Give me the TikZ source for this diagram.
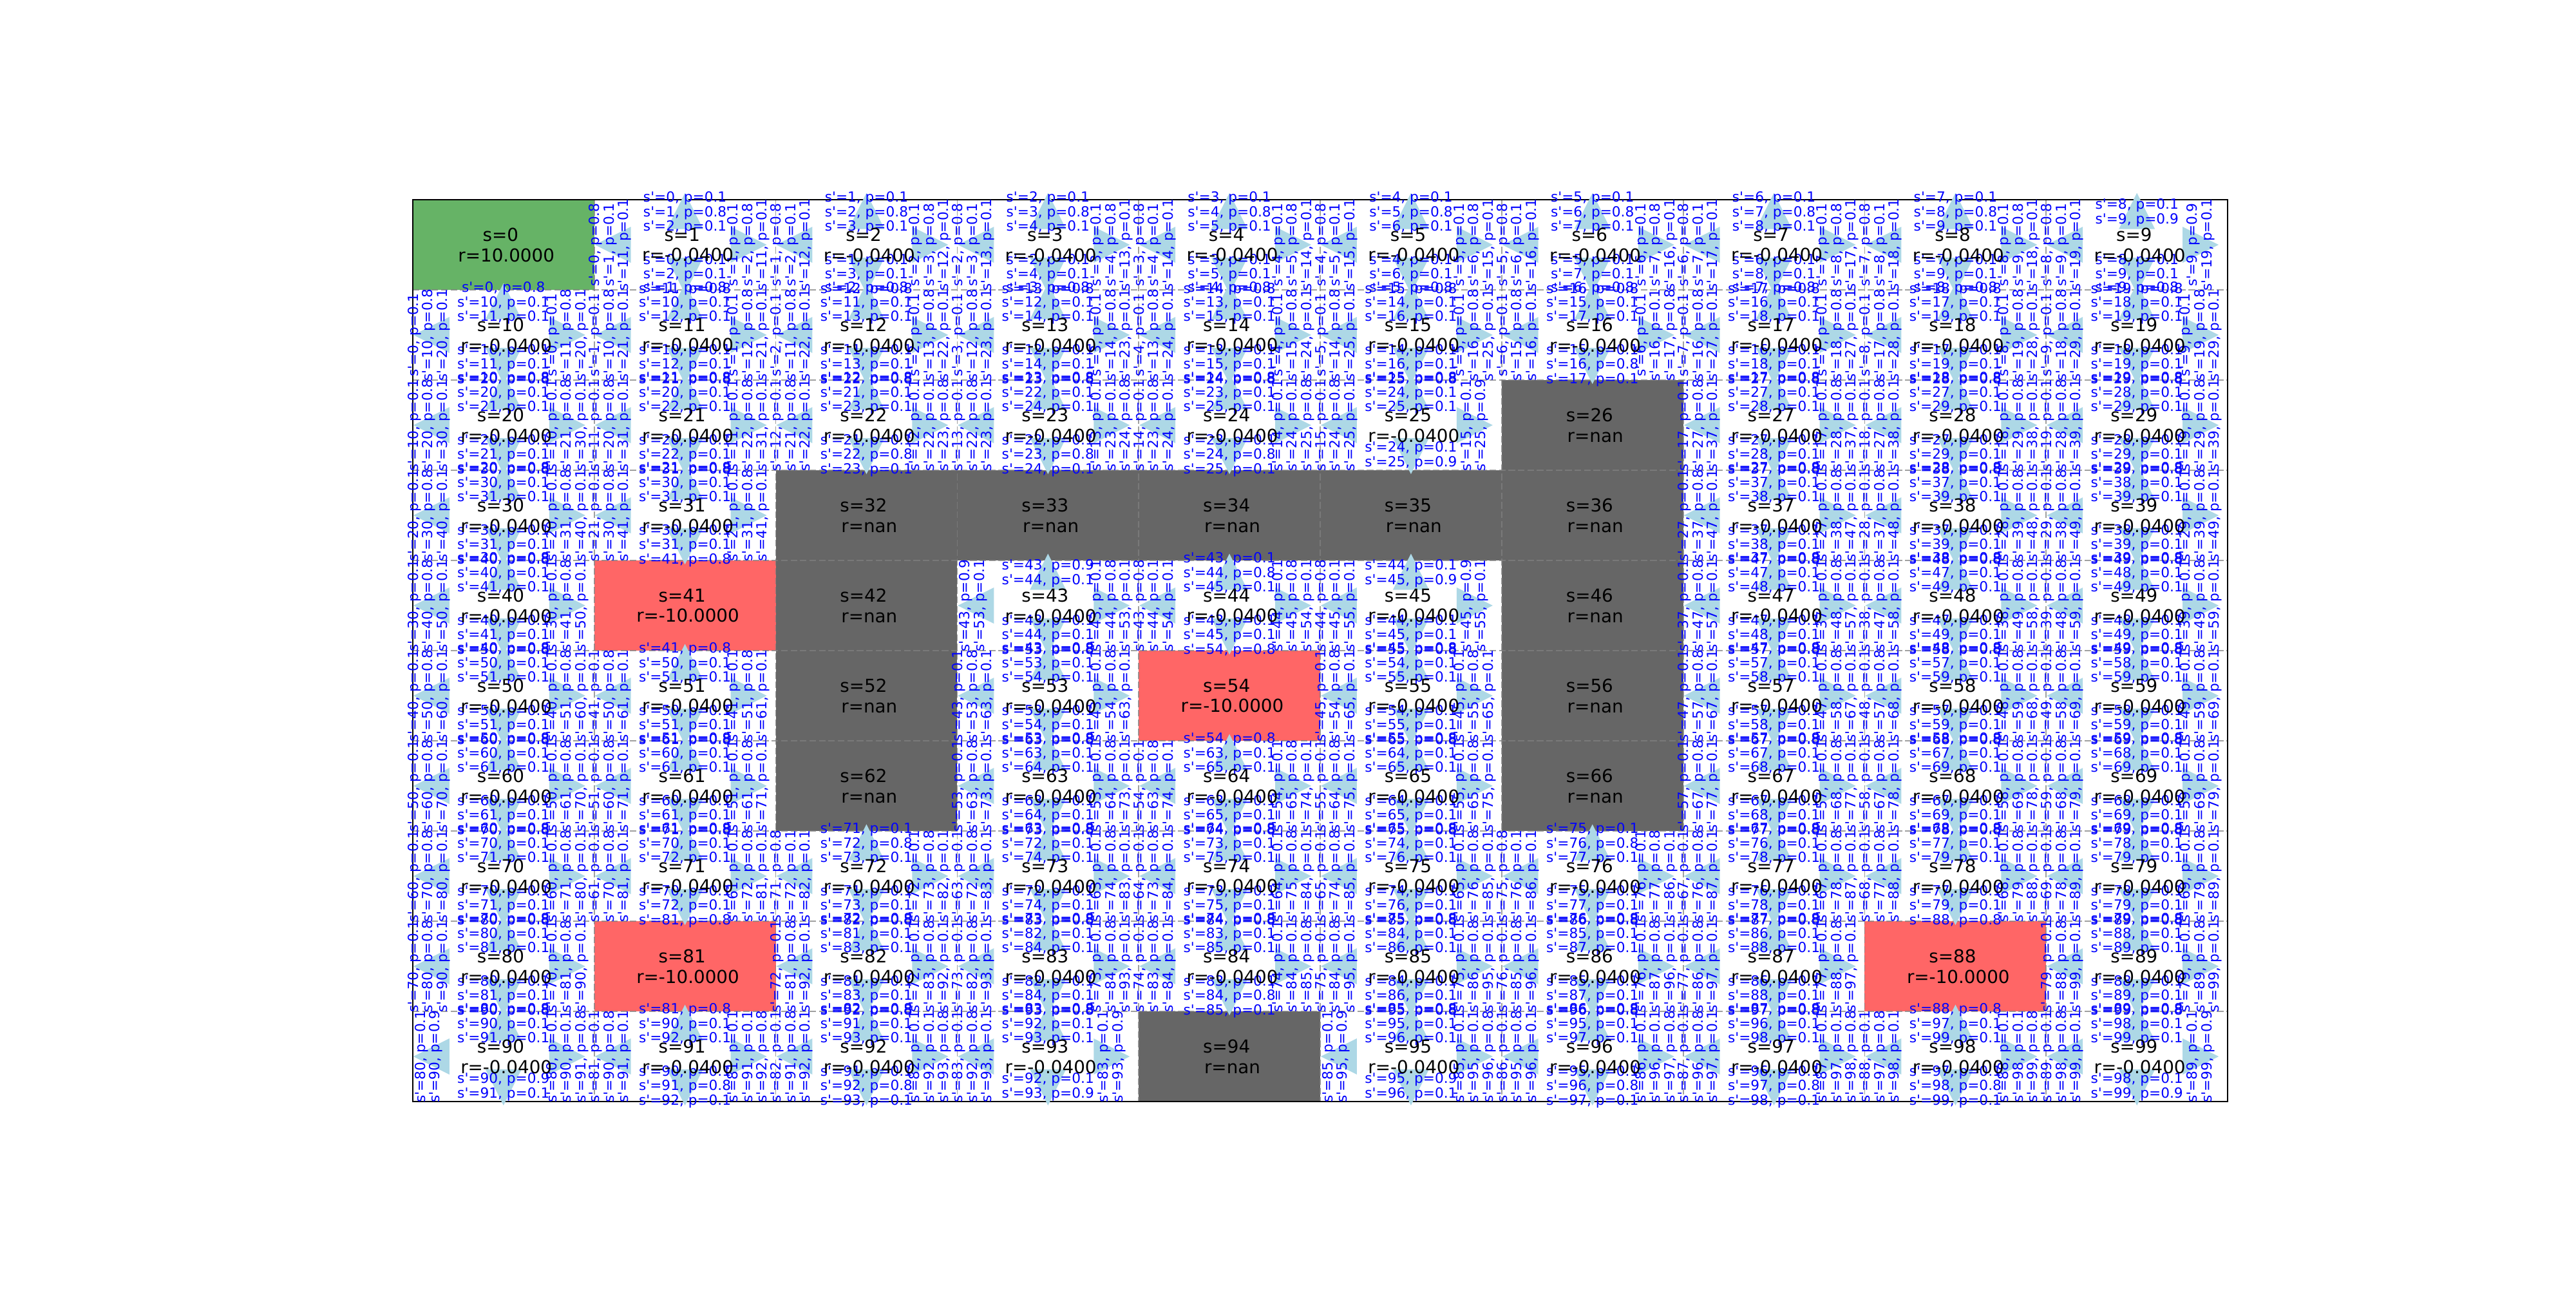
\documentclass[tikz,border=0pt]{standalone}
\usepackage{fontspec}
\newfontfamily\plotfont{DejaVu Sans}[Ligatures=TeXOff]
\definecolor{goalGreen}{RGB}{102,179,102}
\definecolor{trapRed}{RGB}{255,102,102}
\definecolor{wallGray}{RGB}{102,102,102}
\definecolor{lineGray}{RGB}{128,128,128}
\definecolor{arrowBlue}{RGB}{173,216,230}

\makeatletter
\def\walllist{,26,32,33,34,35,36,42,46,52,56,62,66,94,}
\def\traplist{,41,54,81,88,}
\newif\ifblocked
\newif\ifinlist
\newcount\probt
\newcount\cellkindnum
% \inlist{number}{list}
\def\inlist#1#2{\edef\tmp@a{\noexpand\in@{,#1,}{#2}}\tmp@a
  \ifin@\inlisttrue\else\inlistfalse\fi}
% \testcell{row}{col}: off the board or a wall
\def\testcell#1#2{\blockedfalse
  \ifnum#1<0 \blockedtrue\fi \ifnum#1>9 \blockedtrue\fi
  \ifnum#2<0 \blockedtrue\fi \ifnum#2>9 \blockedtrue\fi
  \ifblocked\else
    \inlist{\the\numexpr#1*10+#2\relax}{\walllist}%
    \ifinlist\blockedtrue\fi
  \fi}
% \destof{row}{col}{drow}{dcol} -> \destval
\def\destof#1#2#3#4{%
  \edef\nr@{\the\numexpr#1+(#3)\relax}\edef\nc@{\the\numexpr#2+(#4)\relax}%
  \testcell{\nr@}{\nc@}%
  \ifblocked\edef\destval{\the\numexpr#1*10+#2\relax}%
  \else\edef\destval{\the\numexpr\nr@*10+\nc@\relax}\fi}
\def\trycand#1{%
  \probt=0
  \ifnum\dA=#1 \advance\probt 8 \fi
  \ifnum\dB=#1 \advance\probt 1 \fi
  \ifnum\dC=#1 \advance\probt 1 \fi
  \ifnum\probt>0
    \ifnum\probt=10 \def\ptxt{1.0}\else\edef\ptxt{0.\the\probt}\fi
    \ifx\lbltext\empty\xdef\lbltext{s'=#1, p=\ptxt}%
    \else\edef\tmp@b{\noexpand\g@addto@macro\noexpand\lbltext{\noexpand\\s'=#1, p=\ptxt}}\tmp@b\fi
  \fi}
% \mklabel{row}{col}{main move}{slip move}{slip move} -> \lbltext
\def\mklabel#1#2#3#4#5#6#7#8{%
  \destof{#1}{#2}{#3}{#4}\let\dA\destval
  \destof{#1}{#2}{#5}{#6}\let\dB\destval
  \destof{#1}{#2}{#7}{#8}\let\dC\destval
  \gdef\lbltext{}%
  \edef\sn@{\the\numexpr#1*10+#2\relax}%
  \trycand{\the\numexpr\sn@-10\relax}\trycand{\the\numexpr\sn@-1\relax}%
  \trycand{\sn@}%
  \trycand{\the\numexpr\sn@+1\relax}\trycand{\the\numexpr\sn@+10\relax}}
\def\cellkind#1{%
  \cellkindnum=0 \def\rtxt{-0.0400}%
  \inlist{#1}{\walllist}\ifinlist\cellkindnum=1 \def\rtxt{nan}\fi
  \inlist{#1}{\traplist}\ifinlist\cellkindnum=2 \def\rtxt{-10.0000}\fi
  \ifnum#1=0 \cellkindnum=3 \def\rtxt{10.0000}\fi}
\makeatother

\begin{document}
\begin{tikzpicture}[x=3.57911cm,y=-1.778cm,
    wallcell/.style={fill=wallGray},
    trapcell/.style={fill=trapRed},
    goalcell/.style={fill=goalGreen},
    gridline/.style={draw=lineGray,draw opacity=0.75,line width=0.6pt,dash pattern=on 3.7pt off 1.6pt},
    frameline/.style={draw=black,line width=0.9pt},
    arrowtri/.style={fill=arrowBlue},
    problbl/.style={font=\plotfont\fontsize{7.8bp}{8.1bp}\selectfont,text=blue,align=center,inner sep=0pt},
    statelbl/.style={font=\plotfont\fontsize{10bp}{11.45bp}\selectfont,align=center,inner sep=0pt}]
  \useasboundingbox (-2.2741,-2.2143) rectangle (11.9193,12.0714);
  % cell colours
  \fill[goalcell] (0,0) rectangle (1,1);
  \foreach \sn in {41,54,81,88}
    \fill[trapcell] ({mod(\sn,10)},{int(\sn/10)}) rectangle +(1,1);
  \foreach \sn in {26,32,33,34,35,36,42,46,52,56,62,66,94}
    \fill[wallcell] ({mod(\sn,10)},{int(\sn/10)}) rectangle +(1,1);
  % grid
  \foreach \i in {1,...,9}{
    \draw[gridline] (\i,0) -- (\i,10);
    \draw[gridline] (0,\i) -- (10,\i);
  }
  \draw[frameline] (0,0) rectangle (10,10);
  % actions of the free cells
  \foreach \row in {0,...,9}{
    \foreach \col in {0,...,9}{
      \pgfmathtruncatemacro\sn{\row*10+\col}
      \cellkind{\sn}
      \ifnum\cellkindnum=0
      \begin{scope}[shift={(\col+0.5,\row+0.5)}]
        \fill[arrowtri] (0,-0.575) -- (-0.0994,-0.175) -- (0.0994,-0.175) -- cycle;
        \fill[arrowtri] (0,0.543) -- (-0.0994,0.143) -- (0.0994,0.143) -- cycle;
        \fill[arrowtri] (-0.4968,0) -- (-0.2981,-0.2) -- (-0.2981,0.2) -- cycle;
        \fill[arrowtri] (0.4506,0) -- (0.2519,-0.2) -- (0.2519,0.2) -- cycle;
        \mklabel{\row}{\col}{-1}{0}{0}{-1}{0}{1}
        \node[problbl] (up\sn) at (0,-0.354) {\lbltext};
        \mklabel{\row}{\col}{1}{0}{0}{-1}{0}{1}
        \node[problbl] (dn\sn) at (0,0.336) {\lbltext};
        \mklabel{\row}{\col}{0}{-1}{-1}{0}{1}{0}
        \node[problbl,rotate=90] (lt\sn) at (-0.4116,0) {\lbltext};
        \mklabel{\row}{\col}{0}{1}{-1}{0}{1}{0}
        \node[problbl,rotate=90] (rt\sn) at (0.3513,0) {\lbltext};
      \end{scope}
      \fi
    }
  }
  % state names and rewards
  \foreach \row in {0,...,9}{
    \foreach \col in {0,...,9}{
      \pgfmathtruncatemacro\sn{\row*10+\col}
      \cellkind{\sn}
      \node[statelbl] (s\sn) at (\col+0.5,\row+0.5) {s=\sn\kern.318em\\\kern.318em r=\rtxt};
    }
  }
\end{tikzpicture}
\end{document}
